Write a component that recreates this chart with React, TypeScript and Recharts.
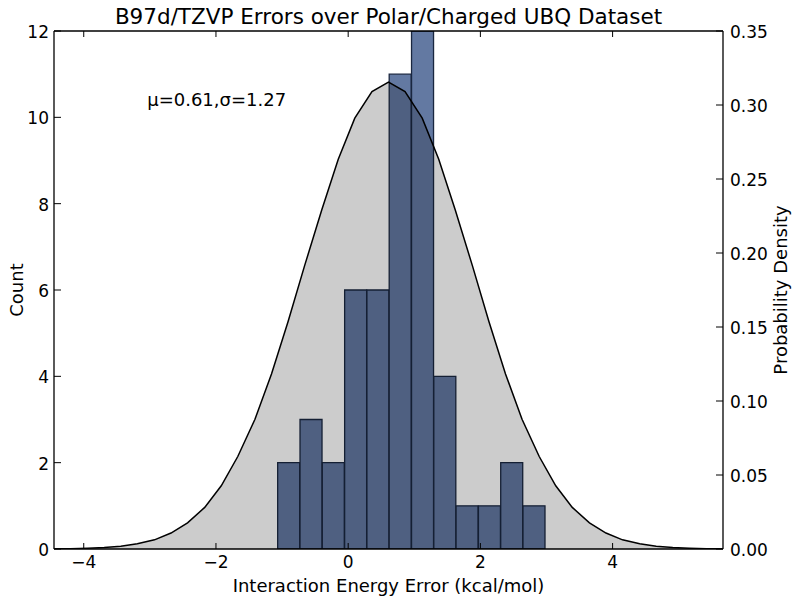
import React from 'react';
import { ComposedChart, Bar, Area, XAxis, YAxis, ReferenceDot } from 'recharts';

// Histogram bins (centers) and counts
const binCenters = [-0.898, -0.56, -0.223, 0.115, 0.452, 0.789, 1.127, 1.464, 1.801, 2.139, 2.476, 2.813];
const binCounts = [2, 3, 2, 6, 6, 11, 12, 4, 1, 1, 2, 1];

const curveX = [
  -4.45, -4.2, -3.94, -3.69, -3.44, -3.19, -2.93, -2.68, -2.43, -2.17, -1.92, -1.67, -1.41, -1.16,
  -0.91, -0.66, -0.4, -0.15, 0.1, 0.36, 0.61, 0.86, 1.12, 1.37, 1.62, 1.88, 2.13, 2.38, 2.63, 2.89,
  3.14, 3.39, 3.65, 3.9, 4.15, 4.41, 4.66, 4.91, 5.16, 5.42, 5.67,
];
const curveDensity = [
  0.0001, 0.0002, 0.0005, 0.001, 0.0019, 0.0035, 0.0062, 0.0108, 0.0177, 0.0281, 0.0427, 0.0625,
  0.0877, 0.1183, 0.1535, 0.1913, 0.229, 0.2634, 0.2911, 0.3091, 0.3154, 0.3091, 0.2911, 0.2634,
  0.229, 0.1913, 0.1535, 0.1183, 0.0877, 0.0625, 0.0427, 0.0281, 0.0177, 0.0108, 0.0062, 0.0035,
  0.0019, 0.001, 0.0005, 0.0002, 0.0001,
];

const xTicks = [-4, -2, 0, 2, 4];
const countTicks = [0, 2, 4, 6, 8, 10, 12];
const densityTicks = [0, 0.05, 0.1, 0.15, 0.2, 0.25, 0.3, 0.35];
const xDomain: [number, number] = [-4.45, 5.67];
const countDomain: [number, number] = [0, 12];
const densityDomain: [number, number] = [0, 0.35];

const titleText = 'B97d/TZVP Errors over Polar/Charged UBQ Dataset';
const xLabelText = 'Interaction Energy Error (kcal/mol)';
const yLeftText = 'Count';
const yRightText = 'Probability Density';
const statsText = 'μ=0.61,σ=1.27';
const statsX = -3.04;
const statsY = 10.26;

const barData = binCenters.map((c, i) => ({ center: c, count: binCounts[i] }));
const curveData = curveX.map((x, i) => ({ x, density: curveDensity[i] }));

const FONT = '"DejaVu Sans", "Liberation Sans", sans-serif';
const FS = 17;
const LABEL_FS = 18;
const tickStyle = { fill: '#000', fontSize: FS, fontFamily: FONT };
const yTickStyle = { fill: '#000', fontSize: FS, fontFamily: FONT, dy: 1 };
const axisLineStyle = { stroke: '#000', strokeWidth: 1.3 };
const tickLineStyle = { stroke: '#000', strokeWidth: 1 };

const fmtX = (v: number) => (v < 0 ? '\u2212' + Math.abs(v) : String(v));
const fmtD = (v: number) => v.toFixed(2);

const TitleLabel = (props: any) => {
  const vb = props.viewBox || {};
  return (
    <text x={vb.x + vb.width / 2} y={24} textAnchor="middle" fontSize={21.5} fontFamily={FONT} fill="#000">
      {titleText}
    </text>
  );
};

const XLabel = (props: any) => {
  const vb = props.viewBox || {};
  return (
    <text x={vb.x + vb.width / 2} y={vb.y + 43} textAnchor="middle" fontSize={LABEL_FS} fontFamily={FONT} fill="#000">
      {xLabelText}
    </text>
  );
};

const YLeftLabel = (props: any) => {
  const vb = props.viewBox || {};
  const cx = vb.x + 23;
  const cy = vb.y + vb.height / 2;
  return (
    <text x={cx} y={cy} transform={`rotate(-90, ${cx}, ${cy})`} textAnchor="middle" fontSize={LABEL_FS} fontFamily={FONT} fill="#000">
      {yLeftText}
    </text>
  );
};

const YRightLabel = (props: any) => {
  const vb = props.viewBox || {};
  const cx = vb.x + 64;
  const cy = vb.y + vb.height / 2;
  return (
    <text x={cx} y={cy} transform={`rotate(-90, ${cx}, ${cy})`} textAnchor="middle" fontSize={LABEL_FS} fontFamily={FONT} fill="#000">
      {yRightText}
    </text>
  );
};

const StatsShape = (props: any) => (
  <text x={props.cx} y={props.cy} textAnchor="start" fontSize={18} fontFamily={FONT} fill="#000">
    {statsText}
  </text>
);

export default function App() {
  return (
    <div style={{ width: 800, height: 602 }}>
      <style>{`body{margin:0;background:#fff;}`}</style>
      <ComposedChart
        width={800}
        height={602}
        data={barData}
        margin={{ top: 30, right: 0, bottom: 0, left: 0 }}
        barCategoryGap={0}
        barGap={0}
      >
        <XAxis xAxisId="bins" type="number" dataKey="center" domain={xDomain} allowDataOverflow hide height={0} />
        <XAxis
          xAxisId="main"
          type="number"
          dataKey="x"
          domain={xDomain}
          allowDataOverflow
          ticks={xTicks}
          interval={0}
          height={53}
          tickSize={-6}
          tickMargin={13}
          tick={tickStyle}
          tickFormatter={fmtX}
          axisLine={axisLineStyle}
          tickLine={tickLineStyle}
          label={{ content: XLabel }}
        />
        <XAxis
          xAxisId="top"
          orientation="top"
          type="number"
          dataKey="center"
          domain={xDomain}
          allowDataOverflow
          ticks={xTicks}
          interval={0}
          height={1}
          tickSize={-6}
          tick={tickStyle}
          tickFormatter={() => ''}
          axisLine={axisLineStyle}
          tickLine={tickLineStyle}
          label={{ content: TitleLabel }}
        />
        <YAxis
          yAxisId="count"
          orientation="left"
          type="number"
          domain={countDomain}
          allowDataOverflow
          ticks={countTicks}
          interval={0}
          width={54}
          tickSize={-7}
          tickMargin={12}
          tick={yTickStyle}
          axisLine={axisLineStyle}
          tickLine={tickLineStyle}
          label={{ content: YLeftLabel }}
        />
        <YAxis
          yAxisId="density"
          orientation="right"
          type="number"
          domain={densityDomain}
          allowDataOverflow
          ticks={densityTicks}
          interval={0}
          width={77}
          tickSize={-7}
          tickMargin={14}
          tick={yTickStyle}
          tickFormatter={fmtD}
          axisLine={axisLineStyle}
          tickLine={tickLineStyle}
          label={{ content: YRightLabel }}
        />
        <Bar
          xAxisId="bins"
          yAxisId="count"
          dataKey="count"
          fill="#6379a2"
          stroke="#1a2740"
          strokeWidth={1.3}
          isAnimationActive={false}
        />
        <Area
          xAxisId="main"
          yAxisId="density"
          data={curveData}
          dataKey="density"
          type="linear"
          fill="#000"
          fillOpacity={0.2}
          stroke="#000"
          strokeWidth={1.5}
          dot={false}
          activeDot={false}
          isAnimationActive={false}
          zIndex={350}
        />
        <ReferenceDot xAxisId="main" yAxisId="count" x={statsX} y={statsY} r={0} shape={StatsShape} />
      </ComposedChart>
    </div>
  );
}
